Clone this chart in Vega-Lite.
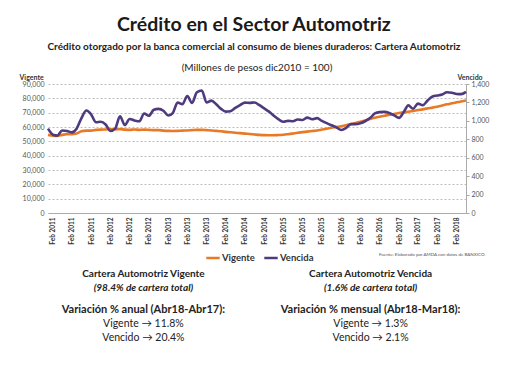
{
  "$schema": "https://vega.github.io/schema/vega-lite/v6.json",
  "background": "white",
  "padding": {"left": 19, "top": 14, "right": 4, "bottom": 0},
  "title": {
    "text": "Crédito en el Sector Automotriz",
    "subtitle": "Crédito otorgado por la banca comercial al consumo de bienes duraderos: Cartera Automotriz",
    "anchor": "middle",
    "font": "Lato",
    "fontSize": 19.5,
    "fontWeight": "bold",
    "color": "#1a1a1a",
    "subtitleFont": "Lato",
    "subtitleFontSize": 10,
    "subtitleFontWeight": "bold",
    "subtitleColor": "#222222",
    "subtitlePadding": 7,
    "offset": 10
  },
  "datasets": {
    "series": [
      {"date": "2011-01", "vigente": 54500, "vencido": 915},
      {"date": "2011-02", "vigente": 54000, "vencido": 850},
      {"date": "2011-03", "vigente": 53800, "vencido": 840},
      {"date": "2011-04", "vigente": 54500, "vencido": 895},
      {"date": "2011-05", "vigente": 55000, "vencido": 890},
      {"date": "2011-06", "vigente": 55000, "vencido": 875},
      {"date": "2011-07", "vigente": 55500, "vencido": 915},
      {"date": "2011-08", "vigente": 57000, "vencido": 1030},
      {"date": "2011-09", "vigente": 57500, "vencido": 1112},
      {"date": "2011-10", "vigente": 57500, "vencido": 1070},
      {"date": "2011-11", "vigente": 58000, "vencido": 985},
      {"date": "2011-12", "vigente": 58200, "vencido": 990},
      {"date": "2012-01", "vigente": 58300, "vencido": 960},
      {"date": "2012-02", "vigente": 58500, "vencido": 890},
      {"date": "2012-03", "vigente": 58300, "vencido": 915},
      {"date": "2012-04", "vigente": 58500, "vencido": 1050},
      {"date": "2012-05", "vigente": 58200, "vencido": 955},
      {"date": "2012-06", "vigente": 58000, "vencido": 1020},
      {"date": "2012-07", "vigente": 58300, "vencido": 1005},
      {"date": "2012-08", "vigente": 58000, "vencido": 995},
      {"date": "2012-09", "vigente": 58200, "vencido": 1080},
      {"date": "2012-10", "vigente": 58000, "vencido": 1055},
      {"date": "2012-11", "vigente": 57800, "vencido": 1120},
      {"date": "2012-12", "vigente": 57800, "vencido": 1130},
      {"date": "2013-01", "vigente": 57500, "vencido": 1110},
      {"date": "2013-02", "vigente": 57300, "vencido": 1058},
      {"date": "2013-03", "vigente": 57200, "vencido": 1085},
      {"date": "2013-04", "vigente": 57300, "vencido": 1200},
      {"date": "2013-05", "vigente": 57500, "vencido": 1180},
      {"date": "2013-06", "vigente": 57600, "vencido": 1270},
      {"date": "2013-07", "vigente": 57800, "vencido": 1195},
      {"date": "2013-08", "vigente": 58000, "vencido": 1310},
      {"date": "2013-09", "vigente": 58000, "vencido": 1330},
      {"date": "2013-10", "vigente": 57800, "vencido": 1200},
      {"date": "2013-11", "vigente": 57600, "vencido": 1220},
      {"date": "2013-12", "vigente": 57300, "vencido": 1180},
      {"date": "2014-01", "vigente": 57000, "vencido": 1130},
      {"date": "2014-02", "vigente": 56600, "vencido": 1100},
      {"date": "2014-03", "vigente": 56300, "vencido": 1105},
      {"date": "2014-04", "vigente": 56000, "vencido": 1140},
      {"date": "2014-05", "vigente": 55700, "vencido": 1170},
      {"date": "2014-06", "vigente": 55400, "vencido": 1198},
      {"date": "2014-07", "vigente": 55100, "vencido": 1195},
      {"date": "2014-08", "vigente": 54800, "vencido": 1200},
      {"date": "2014-09", "vigente": 54500, "vencido": 1170},
      {"date": "2014-10", "vigente": 54300, "vencido": 1135},
      {"date": "2014-11", "vigente": 54200, "vencido": 1100},
      {"date": "2014-12", "vigente": 54200, "vencido": 1055},
      {"date": "2015-01", "vigente": 54400, "vencido": 1015},
      {"date": "2015-02", "vigente": 54600, "vencido": 990},
      {"date": "2015-03", "vigente": 55000, "vencido": 1000},
      {"date": "2015-04", "vigente": 55500, "vencido": 996},
      {"date": "2015-05", "vigente": 56000, "vencido": 1015},
      {"date": "2015-06", "vigente": 56400, "vencido": 1010},
      {"date": "2015-07", "vigente": 56800, "vencido": 1035},
      {"date": "2015-08", "vigente": 57200, "vencido": 1018},
      {"date": "2015-09", "vigente": 57600, "vencido": 1030},
      {"date": "2015-10", "vigente": 58200, "vencido": 1000},
      {"date": "2015-11", "vigente": 58800, "vencido": 975},
      {"date": "2015-12", "vigente": 59500, "vencido": 952},
      {"date": "2016-01", "vigente": 60000, "vencido": 930},
      {"date": "2016-02", "vigente": 60500, "vencido": 900},
      {"date": "2016-03", "vigente": 61200, "vencido": 920},
      {"date": "2016-04", "vigente": 62000, "vencido": 965},
      {"date": "2016-05", "vigente": 62800, "vencido": 965},
      {"date": "2016-06", "vigente": 63700, "vencido": 975},
      {"date": "2016-07", "vigente": 64500, "vencido": 996},
      {"date": "2016-08", "vigente": 65500, "vencido": 1030},
      {"date": "2016-09", "vigente": 66500, "vencido": 1080},
      {"date": "2016-10", "vigente": 67200, "vencido": 1095},
      {"date": "2016-11", "vigente": 67800, "vencido": 1097},
      {"date": "2016-12", "vigente": 68500, "vencido": 1085},
      {"date": "2017-01", "vigente": 69000, "vencido": 1060},
      {"date": "2017-02", "vigente": 69800, "vencido": 1032},
      {"date": "2017-03", "vigente": 70200, "vencido": 1090},
      {"date": "2017-04", "vigente": 70700, "vencido": 1168},
      {"date": "2017-05", "vigente": 71200, "vencido": 1132},
      {"date": "2017-06", "vigente": 71800, "vencido": 1187},
      {"date": "2017-07", "vigente": 72300, "vencido": 1170},
      {"date": "2017-08", "vigente": 73000, "vencido": 1220},
      {"date": "2017-09", "vigente": 73500, "vencido": 1265},
      {"date": "2017-10", "vigente": 74200, "vencido": 1275},
      {"date": "2017-11", "vigente": 75000, "vencido": 1285},
      {"date": "2017-12", "vigente": 75800, "vencido": 1310},
      {"date": "2018-01", "vigente": 76500, "vencido": 1305},
      {"date": "2018-02", "vigente": 77200, "vencido": 1292},
      {"date": "2018-03", "vigente": 77800, "vencido": 1290},
      {"date": "2018-04", "vigente": 78500, "vencido": 1315}
    ],
    "notes": [
      {"col": "Vigente", "block": "encabezado", "line": 1, "text": "Cartera Automotriz Vigente"},
      {"col": "Vigente", "block": "encabezado", "line": 2, "text": "(98.4% de cartera total)"},
      {"col": "Vencida", "block": "encabezado", "line": 1, "text": "Cartera Automotriz Vencida"},
      {"col": "Vencida", "block": "encabezado", "line": 2, "text": "(1.6% de cartera total)"},
      {"col": "Vigente", "block": "variacion", "line": 1, "text": "Variación  % anual (Abr18-Abr17):"},
      {"col": "Vigente", "block": "variacion", "line": 2, "text": "Vigente →  11.8%"},
      {"col": "Vigente", "block": "variacion", "line": 3, "text": "Vencido → 20.4%"},
      {"col": "Vencida", "block": "variacion", "line": 1, "text": "Variación  % mensual (Abr18-Mar18):"},
      {"col": "Vencida", "block": "variacion", "line": 2, "text": "Vigente → 1.3%"},
      {"col": "Vencida", "block": "variacion", "line": 3, "text": "Vencido → 2.1%"}
    ]
  },
  "spacing": 11,
  "vconcat": [
    {
      "width": 418,
      "height": 129,
      "title": {"text": "(Millones de pesos dic2010 = 100)", "font": "Lato", "fontSize": 10, "fontWeight": "normal", "color": "#222222", "offset": 0},
      "data": {"name": "series", "format": {"parse": {"date": "date:'%Y-%m'"}}},
      "encoding": {
        "x": {
          "field": "date",
          "type": "temporal",
          "scale": {"domain": [{"year": 2011, "month": 1, "date": 1}, {"year": 2018, "month": 4, "date": 1}], "nice": false},
          "axis": {
            "values": [
              {"year": 2011, "month": 2, "date": 1}, {"year": 2011, "month": 6, "date": 1}, {"year": 2011, "month": 10, "date": 1},
              {"year": 2012, "month": 2, "date": 1}, {"year": 2012, "month": 6, "date": 1}, {"year": 2012, "month": 10, "date": 1},
              {"year": 2013, "month": 2, "date": 1}, {"year": 2013, "month": 6, "date": 1}, {"year": 2013, "month": 10, "date": 1},
              {"year": 2014, "month": 2, "date": 1}, {"year": 2014, "month": 6, "date": 1}, {"year": 2014, "month": 10, "date": 1},
              {"year": 2015, "month": 2, "date": 1}, {"year": 2015, "month": 6, "date": 1}, {"year": 2015, "month": 10, "date": 1},
              {"year": 2016, "month": 2, "date": 1}, {"year": 2016, "month": 6, "date": 1}, {"year": 2016, "month": 10, "date": 1},
              {"year": 2017, "month": 2, "date": 1}, {"year": 2017, "month": 6, "date": 1}, {"year": 2017, "month": 10, "date": 1},
              {"year": 2018, "month": 2, "date": 1}
            ],
            "labelExpr": "'Feb ' + timeFormat(datum.value, '%Y')",
            "labelAngle": 270,
            "labelFont": "Lato",
            "labelFontSize": 6.5,
            "labelFontWeight": "bold",
            "labelColor": "#333333",
            "labelPadding": 4,
            "labelFlush": false,
            "labelOverlap": false,
            "ticks": false,
            "grid": false,
            "domainColor": "#aaaaaa",
            "title": "Fuente: Elaborado por AMDA con datos de BANXICO.",
            "titleFont": "Lato",
            "titleFontSize": 4.5,
            "titleFontWeight": "normal",
            "titleColor": "#555555",
            "titleAlign": "right",
            "titleAnchor": "end",
            "titleX": 437,
            "titleY": 41,
            "titleBaseline": "middle"
          }
        }
      },
      "layer": [
        {
          "mark": {"type": "line", "strokeWidth": 2.6, "interpolate": "monotone"},
          "encoding": {
            "y": {
              "field": "vigente",
              "type": "quantitative",
              "scale": {"domain": [0, 90000], "nice": false},
              "axis": {
                "orient": "left",
                "values": [0, 10000, 20000, 30000, 40000, 50000, 60000, 70000, 80000, 90000],
                "format": ",.0f",
                "grid": true,
                "gridDash": [2, 2],
                "gridColor": "#bdbdbd",
                "domain": false,
                "ticks": false,
                "labelFont": "Lato",
                "labelFontSize": 7,
                "labelColor": "#555555",
                "labelPadding": 4,
                "title": "Vigente",
                "titleFont": "Lato",
                "titleAngle": 0,
                "titleAlign": "left",
                "titleBaseline": "alphabetic",
                "titleX": -29,
                "titleY": -5,
                "titleFontSize": 7,
                "titleFontWeight": "bold",
                "titleColor": "#333333"
              }
            },
            "color": {
              "datum": "Vigente",
              "type": "nominal",
              "scale": {"domain": ["Vigente", "Vencida"], "range": ["#E87A26", "#4E3B7E"]},
              "legend": {
                "orient": "none",
                "legendX": 157,
                "legendY": 166,
                "direction": "horizontal",
                "title": null,
                "symbolType": "stroke",
                "symbolStrokeWidth": 2.5,
                "symbolSize": 180,
                "labelFont": "Lato",
                "labelFontSize": 9.5,
                "labelFontWeight": "bold",
                "labelColor": "#333333",
                "labelOffset": 1,
                "columnPadding": 4
              }
            }
          }
        },
        {
          "mark": {"type": "line", "strokeWidth": 2.6, "interpolate": "monotone"},
          "encoding": {
            "y": {
              "field": "vencido",
              "type": "quantitative",
              "scale": {"domain": [0, 1400], "nice": false},
              "axis": {
                "orient": "right",
                "values": [0, 200, 400, 600, 800, 1000, 1200, 1400],
                "format": ",.0f",
                "grid": false,
                "domain": true,
                "domainColor": "#aaaaaa",
                "ticks": true,
                "tickSize": 3,
                "tickColor": "#aaaaaa",
                "labelFont": "Lato",
                "labelFontSize": 7,
                "labelColor": "#555555",
                "labelPadding": 2,
                "title": "Vencido",
                "titleFont": "Lato",
                "titleAngle": 0,
                "titleAlign": "left",
                "titleBaseline": "alphabetic",
                "titleX": -9,
                "titleY": -5,
                "titleFontSize": 7,
                "titleFontWeight": "bold",
                "titleColor": "#333333"
              }
            },
            "color": {"datum": "Vencida", "type": "nominal"}
          }
        }
      ],
      "resolve": {"scale": {"y": "independent"}}
    },
    {
      "spacing": 8,
      "vconcat": [
        {
          "width": 418,
          "height": 28,
          "data": {"name": "notes"},
          "transform": [{"filter": "datum.block == 'encabezado'"}],
          "encoding": {
            "x": {"field": "col", "type": "nominal", "scale": {"type": "point", "domain": ["Vigente", "Vencida"], "padding": 0.42}, "axis": null},
            "y": {"field": "line", "type": "ordinal", "scale": {"type": "point", "padding": 0.5}, "axis": null},
            "text": {"field": "text"}
          },
          "layer": [
            {"transform": [{"filter": "datum.line == 1"}], "mark": {"type": "text", "font": "Lato", "fontSize": 10, "fontWeight": "bold", "color": "#222222", "baseline": "middle", "align": "center"}},
            {"transform": [{"filter": "datum.line == 2"}], "mark": {"type": "text", "font": "Lato", "fontSize": 10, "fontWeight": "bold", "fontStyle": "italic", "color": "#222222", "baseline": "middle", "align": "center"}}
          ]
        },
        {
          "width": 418,
          "height": 42,
          "data": {"name": "notes"},
          "transform": [{"filter": "datum.block == 'variacion'"}],
          "encoding": {
            "x": {"field": "col", "type": "nominal", "scale": {"type": "point", "domain": ["Vigente", "Vencida"], "padding": 0.42}, "axis": null},
            "y": {"field": "line", "type": "ordinal", "scale": {"type": "point", "padding": 0.5}, "axis": null},
            "text": {"field": "text"}
          },
          "layer": [
            {"transform": [{"filter": "datum.line == 1"}], "mark": {"type": "text", "font": "Lato", "fontSize": 11, "fontWeight": "bold", "color": "#222222", "baseline": "middle", "align": "center"}},
            {"transform": [{"filter": "datum.line > 1"}], "mark": {"type": "text", "font": "Lato", "fontSize": 10.5, "fontWeight": "normal", "color": "#222222", "baseline": "middle", "align": "center"}}
          ]
        }
      ]
    }
  ],
  "config": {"view": {"stroke": null}, "font": "Lato"}
}
